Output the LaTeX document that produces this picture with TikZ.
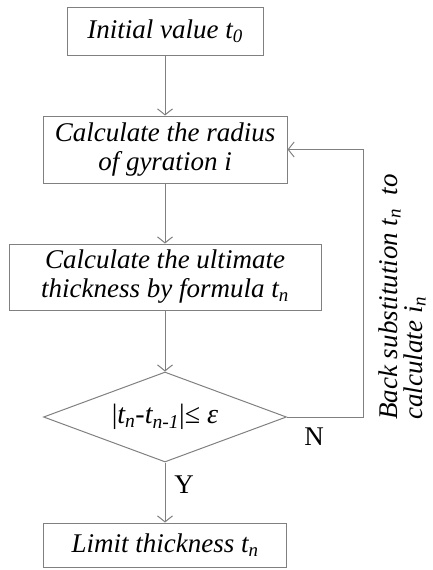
\documentclass[tikz,border=0pt]{standalone}
\usepackage{fontspec}
\setmainfont{Liberation Serif}
\usetikzlibrary{shapes.geometric,arrows.meta}
\definecolor{linegray}{RGB}{128,128,128}
\tikzset{
  flowbox/.style={draw=linegray,line width=1pt,inner sep=0pt,align=center,
    font=\itshape\fontsize{27}{29}\selectfont},
  flowline/.style={draw=linegray,line width=1pt,-{Straight Barb[length=6pt,width=15pt]}},
  mark label/.style={font=\fontsize{27}{30}\selectfont},
}
\begin{document}
\begin{tikzpicture}[x=1pt,y=-1pt]
\useasboundingbox (0,0) rectangle (432,570);
% steps of the iteration
\node[flowbox,minimum width=196pt,minimum height=48pt] (init) at (165,31) {Initial value t\textsubscript{0}};
\node[flowbox,minimum width=244pt,minimum height=67pt] (radius) at (165,149.5) {Calculate the radius\\of gyration i};
\node[flowbox,minimum width=312pt,minimum height=66pt] (ultimate) at (165,277) {Calculate the ultimate\\thickness by formula t\textsubscript{n}};
\node[diamond,draw=linegray,line width=1pt,inner sep=0pt,aspect=2.7,minimum width=243pt,minimum height=90pt,
  font=\fontsize{28}{30}\selectfont] (check) at (165,417)
  {|\textit{t\textsubscript{n}}-\textit{t\textsubscript{n-1}}|≤ \textit{ε}};
\node[flowbox,minimum width=243pt,minimum height=44pt] (limit) at (165,545) {Limit thickness t\textsubscript{n}};
% connectors
\draw[flowline] (init) -- (radius);
\draw[flowline] (radius) -- (ultimate);
\draw[flowline] (ultimate) -- (check);
\draw[flowline] (check) -- (limit);
\coordinate (back) at (363,417);
\draw[flowline] (check.east) -- (back) |- (radius.east);
% labels
\node[mark label] (yes) at (184,485) {Y};
\node[mark label] (no) at (314,437) {N};
\node[rotate=90,align=left,font=\itshape\fontsize{27}{25}\selectfont] (note) at (402,297)
  {Back substitution t\textsubscript{n}\ \ to\\calculate i\textsubscript{n}};
\end{tikzpicture}
\end{document}
